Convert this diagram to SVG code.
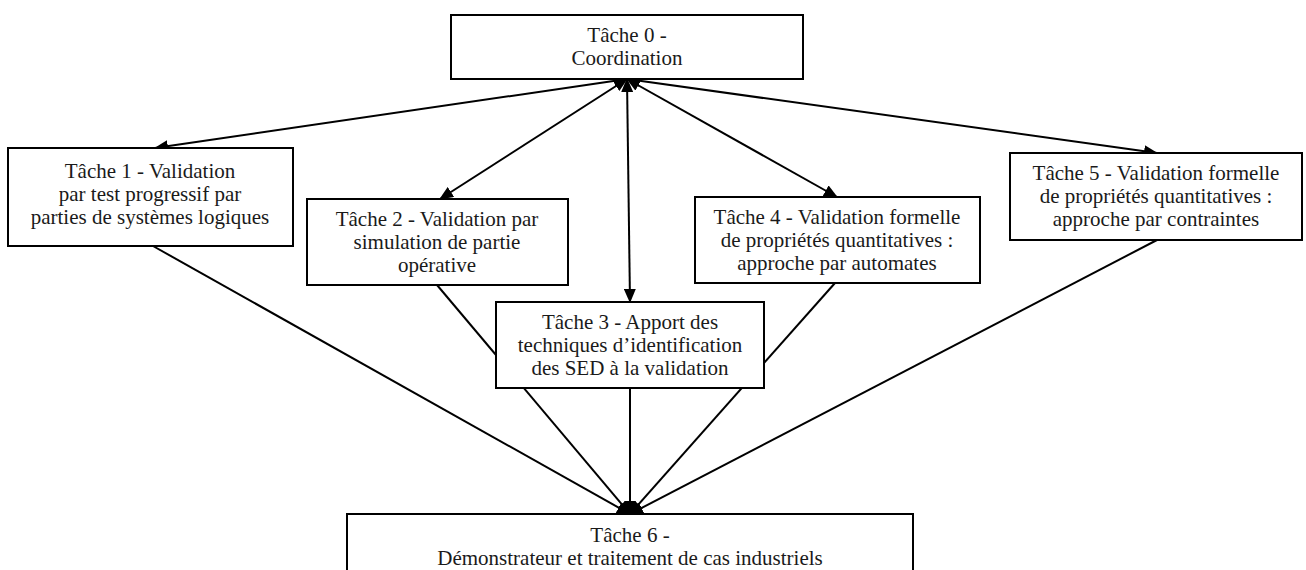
<svg xmlns="http://www.w3.org/2000/svg" width="1306" height="570" viewBox="0 0 1306 570">
<style>
.box{fill:#fff;stroke:#000;stroke-width:2}
.t{font-family:"Liberation Serif","Times New Roman",serif;font-size:21px;fill:#1a1a1a;text-anchor:middle}
.c{stroke:#000;stroke-width:2;fill:none}
.a{marker-end:url(#ah)}
.d{marker-start:url(#ah);marker-end:url(#ah)}
</style>
<defs>
<marker id="ah" markerUnits="userSpaceOnUse" markerWidth="14" markerHeight="12" refX="13" refY="6" orient="auto-start-reverse" viewBox="0 0 14 12">
<path d="M0,0 L14,6 L0,12 z" fill="#000"/>
</marker>
</defs>
<rect width="1306" height="570" fill="#fff"/>
<g id="connectors">
<line class="c d" x1="627" y1="79" x2="155" y2="148"/>
<line class="c d" x1="627" y1="79" x2="440" y2="199"/>
<line class="c d" x1="627" y1="79" x2="630" y2="302"/>
<line class="c d" x1="627" y1="79" x2="837" y2="197"/>
<line class="c d" x1="627" y1="79" x2="1157" y2="153"/>
<line class="c a" x1="153" y1="246" x2="630" y2="514"/>
<line class="c a" x1="437" y1="285" x2="630" y2="514"/>
<line class="c a" x1="630" y1="388" x2="630" y2="514"/>
<line class="c a" x1="835" y1="283" x2="630" y2="514"/>
<line class="c a" x1="1157" y1="240" x2="630" y2="514"/>
</g>
<g id="t0">
<rect class="box" x="451" y="15" width="352" height="64"/>
<text class="t" x="627" y="42">Tâche 0 -</text>
<text class="t" x="627" y="65">Coordination</text>
</g>
<g id="t1">
<rect class="box" x="8" y="148" width="285" height="98"/>
<text class="t" x="150" y="178">Tâche 1 - Validation</text>
<text class="t" x="150" y="201">par test progressif par</text>
<text class="t" x="150" y="224">parties de systèmes logiques</text>
</g>
<g id="t2">
<rect class="box" x="307" y="199" width="261" height="86"/>
<text class="t" x="437" y="225.5">Tâche 2 - Validation par</text>
<text class="t" x="437" y="248.5">simulation de partie</text>
<text class="t" x="437" y="271.5">opérative</text>
</g>
<g id="t3">
<rect class="box" x="496" y="302" width="268" height="86"/>
<text class="t" x="630" y="328.5">Tâche 3 - Apport des</text>
<text class="t" x="630" y="351.5">techniques d’identification</text>
<text class="t" x="630" y="374.5">des SED à la validation</text>
</g>
<g id="t4">
<rect class="box" x="695" y="197" width="285" height="86"/>
<text class="t" x="837" y="223.5">Tâche 4 - Validation formelle</text>
<text class="t" x="837" y="246.5">de propriétés quantitatives :</text>
<text class="t" x="837" y="269.5">approche par automates</text>
</g>
<g id="t5">
<rect class="box" x="1010" y="153" width="292" height="87"/>
<text class="t" x="1156" y="180">Tâche 5 - Validation formelle</text>
<text class="t" x="1156" y="203">de propriétés quantitatives :</text>
<text class="t" x="1156" y="226">approche par contraintes</text>
</g>
<g id="t6">
<rect class="box" x="347" y="514" width="566" height="80"/>
<text class="t" x="630" y="541.5">Tâche 6 -</text>
<text class="t" x="630" y="564.5">Démonstrateur et traitement de cas industriels</text>
</g>
</svg>
